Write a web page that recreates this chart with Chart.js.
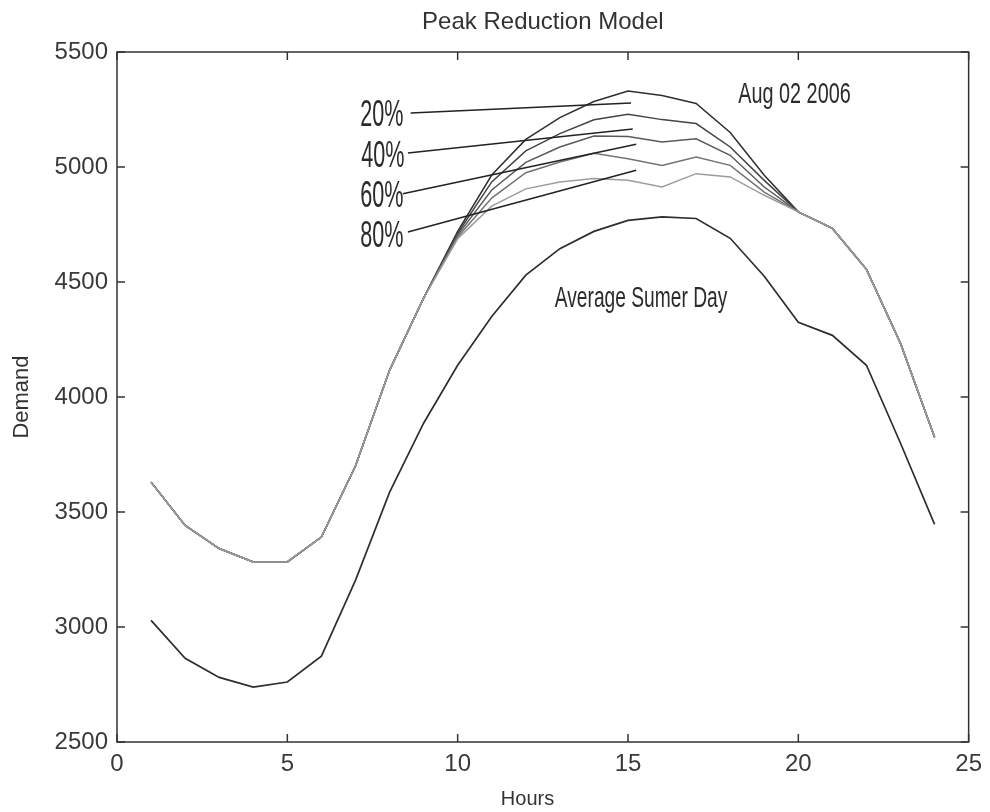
<!DOCTYPE html>
<html>
<head>
<meta charset="utf-8">
<title>Peak Reduction Model</title>
<script src="https://cdn.jsdelivr.net/npm/chart.js@4.4.1/dist/chart.umd.min.js"></script>
<style>
  html, body { margin: 0; padding: 0; background: #fff; }
  #wrap { width: 990px; height: 812px; position: relative; }
</style>
</head>
<body>
<div id="wrap"><canvas id="chart"></canvas></div>
<script>
  // Hourly demand.
  const hours = [1, 2, 3, 4, 5, 6, 7, 8, 9, 10, 11, 12, 13, 14, 15, 16, 17, 18, 19, 20, 21, 22, 23, 24];

  const avgSummerDay = [3029, 2864, 2781, 2739, 2761, 2873, 3203, 3585, 3886, 4138, 4350, 4530,
    4645, 4720, 4768, 4783, 4776, 4690, 4525, 4325, 4268, 4138, 3799, 3446];

  const aug02 = [3630, 3442, 3341, 3283, 3283, 3391, 3700, 4116, 4430, 4720, 4965, 5120,
    5215, 5285, 5330, 5311, 5276, 5150, 4964, 4805, 4733, 4555, 4233, 3825];
  const cut20 = [3630, 3442, 3341, 3283, 3283, 3391, 3700, 4116, 4430, 4712, 4935, 5070,
    5145, 5205, 5229, 5206, 5189, 5087, 4942, 4805, 4733, 4555, 4233, 3825];
  const cut40 = [3630, 3442, 3341, 3283, 3283, 3391, 3700, 4116, 4430, 4704, 4900, 5020,
    5087, 5135, 5133, 5109, 5123, 5051, 4913, 4805, 4733, 4555, 4233, 3825];
  const cut60 = [3630, 3442, 3341, 3283, 3283, 3391, 3700, 4116, 4430, 4696, 4865, 4975,
    5022, 5060, 5036, 5007, 5043, 5007, 4891, 4805, 4733, 4555, 4233, 3825];
  const cut80 = [3630, 3442, 3341, 3283, 3283, 3391, 3700, 4116, 4430, 4688, 4830, 4905,
    4935, 4950, 4942, 4913, 4971, 4957, 4877, 4805, 4733, 4555, 4233, 3825];

  const xTicks = [0, 5, 10, 15, 20, 25];
  const yTicks = [2500, 3000, 3500, 4000, 4500, 5000, 5500];

  // Text notes on the plot, placed in data units.
  const pctLabels = ['20%', '40%', '60%', '80%'];
  const pctLabelAt = [[7.14, 5222], [7.17, 5045], [7.14, 4871], [7.14, 4697]];
  const pointerFrom = [[8.62, 5235], [8.54, 5061], [8.39, 4884], [8.54, 4717]];
  const pointerTo = [[15.09, 5278], [15.14, 5165], [15.24, 5099], [15.24, 4986]];
  const dateNote = { text: 'Aug 02 2006', at: [18.24, 5316] };
  const avgNote = { text: 'Average Sumer Day', at: [12.85, 4429] };

  const FONT = '"Liberation Sans", Arial, sans-serif';
  const toPoints = (vals) => vals.map((v, i) => ({ x: hours[i], y: v }));

  const line = (label, vals, color, order, width = 1.5) => ({
    label,
    data: toPoints(vals),
    borderColor: color,
    backgroundColor: 'transparent',
    borderWidth: width,
    pointRadius: 0,
    tension: 0,
    order,
  });

  // squeezed text, the notes in the picture use a tall narrow face
  function narrowText(ctx, text, px, py, size, squeeze) {
    ctx.save();
    ctx.translate(px, py);
    ctx.scale(squeeze, 1);
    ctx.font = `${size}px ${FONT}`;
    ctx.textBaseline = 'middle';
    ctx.fillStyle = '#2b2b2b';
    ctx.fillText(text, 0, 0);
    ctx.restore();
  }

  const frame = {
    id: 'frame',
    afterDatasetsDraw(chart) {
      const { ctx, chartArea: a, scales: { x, y } } = chart;
      ctx.save();

      // pointer lines from the percent labels
      ctx.strokeStyle = '#222';
      ctx.lineWidth = 1.5;
      pointerFrom.forEach((p, i) => {
        const q = pointerTo[i];
        ctx.beginPath();
        ctx.moveTo(x.getPixelForValue(p[0]), y.getPixelForValue(p[1]));
        ctx.lineTo(x.getPixelForValue(q[0]), y.getPixelForValue(q[1]));
        ctx.stroke();
      });

      pctLabels.forEach((t, i) => {
        narrowText(ctx, t, x.getPixelForValue(pctLabelAt[i][0]), y.getPixelForValue(pctLabelAt[i][1]), 36, 0.6);
      });
      narrowText(ctx, dateNote.text, x.getPixelForValue(dateNote.at[0]), y.getPixelForValue(dateNote.at[1]), 30, 0.66);
      narrowText(ctx, avgNote.text, x.getPixelForValue(avgNote.at[0]), y.getPixelForValue(avgNote.at[1]), 30, 0.64);

      // box and inward ticks on all four sides, matlab style
      ctx.strokeStyle = '#333';
      ctx.lineWidth = 1.5;
      ctx.strokeRect(a.left, a.top, a.right - a.left, a.bottom - a.top);
      ctx.beginPath();
      xTicks.forEach((t) => {
        const px = x.getPixelForValue(t);
        ctx.moveTo(px, a.bottom); ctx.lineTo(px, a.bottom - 8);
        ctx.moveTo(px, a.top); ctx.lineTo(px, a.top + 8);
      });
      yTicks.forEach((t) => {
        const py = y.getPixelForValue(t);
        ctx.moveTo(a.left, py); ctx.lineTo(a.left + 8, py);
        ctx.moveTo(a.right, py); ctx.lineTo(a.right - 8, py);
      });
      ctx.stroke();

      // chart title and x axis title
      ctx.fillStyle = '#333';
      ctx.textAlign = 'center';
      ctx.textBaseline = 'middle';
      ctx.font = `24px ${FONT}`;
      ctx.fillText('Peak Reduction Model', (a.left + a.right) / 2, 22);
      ctx.font = `20px ${FONT}`;
      ctx.fillText('Hours', x.getPixelForValue(12.05), 799);
      ctx.restore();
    },
  };

  new Chart(document.getElementById('chart'), {
    type: 'line',
    data: {
      datasets: [
        line('Aug 02 2006', aug02, '#2e2e2e', 5),
        line('20%', cut20, '#444444', 4),
        line('40%', cut40, '#5a5a5a', 3),
        line('60%', cut60, '#737373', 2),
        line('80%', cut80, '#9c9c9c', 1),
        line('Average Sumer Day', avgSummerDay, '#2e2e2e', 6, 1.7),
      ],
    },
    options: {
      responsive: true,
      maintainAspectRatio: false,
      animation: false,
      layout: { padding: { top: 52, right: 15, left: 0, bottom: 0 } },
      plugins: {
        legend: { display: false },
        tooltip: { enabled: false },
      },
      scales: {
        x: {
          type: 'linear',
          min: 0,
          max: 25,
          afterBuildTicks: (s) => { s.ticks = xTicks.map((v) => ({ value: v })); },
          afterFit: (s) => { s.height = 70; },
          grid: { display: false, drawTicks: false },
          border: { display: false },
          ticks: {
            padding: 8,
            color: '#3a3a3a',
            font: { family: FONT, size: 24 },
            callback: (v) => String(v),
          },
        },
        y: {
          min: 2500,
          max: 5500,
          afterBuildTicks: (s) => { s.ticks = yTicks.map((v) => ({ value: v })); },
          afterFit: (s) => { s.width = 117; },
          grid: { display: false, drawTicks: false },
          border: { display: false },
          ticks: {
            padding: 9,
            color: '#3a3a3a',
            font: { family: FONT, size: 24 },
            callback: (v) => String(v),
          },
          title: {
            display: true,
            text: 'Demand',
            color: '#333',
            font: { family: FONT, size: 22, lineHeight: 1 },
            padding: { top: 11, bottom: 0 },
          },
        },
      },
    },
    plugins: [frame],
  });
</script>
</body>
</html>
